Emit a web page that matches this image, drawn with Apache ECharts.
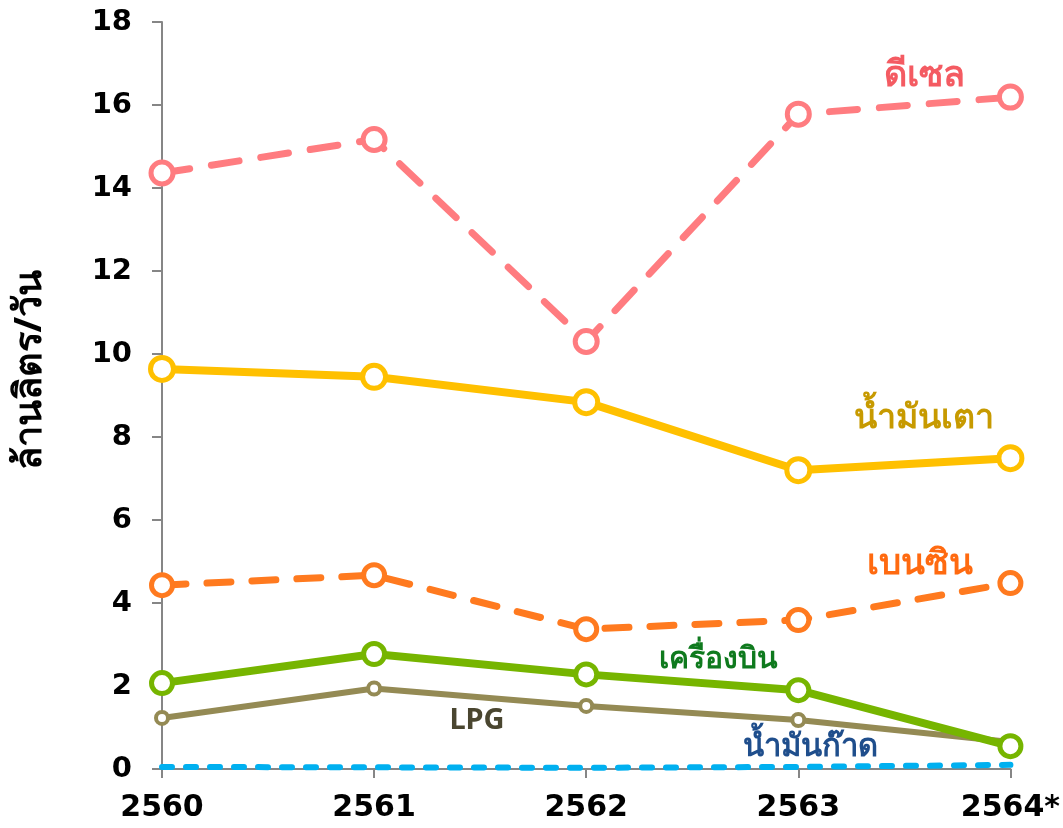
<!DOCTYPE html>
<html>
<head>
<meta charset="utf-8">
<script src="https://cdn.jsdelivr.net/npm/echarts@6/dist/echarts.min.js"></script>
<style>
  html, body { margin: 0; padding: 0; background: #fff; }
  #chart { width: 1063px; height: 828px; }
</style>
</head>
<body>
<div id="chart"></div>
<script>
// ข้อมูล
const years = ['2560', '2561', '2562', '2563', '2564*']
const diesel = [14.36, 15.17, 10.3, 15.78, 16.19]
const fuelOil = [9.64, 9.45, 8.84, 7.2, 7.49]
const benzin = [4.43, 4.67, 3.37, 3.59, 4.48]
const jet = [2.07, 2.77, 2.28, 1.9, 0.55]
const lpg = [1.23, 1.94, 1.52, 1.18, 0.65]
const kerosene = [0.05, 0.04, 0.03, 0.05, 0.1]
const yTicks = [0, 2, 4, 6, 8, 10, 12, 14, 16, 18]

const numFont = '"DejaVu Sans", Verdana, sans-serif'
const thaiFont = '"Noto Sans", "DejaVu Sans", sans-serif'

function lineSeries(name, data, color, width, dashed, size, border) {
  return {
    name: name,
    type: 'line',
    data: data,
    symbol: size ? 'circle' : 'none',
    symbolSize: size || 0,
    showSymbol: !!size,
    itemStyle: { color: '#fff', borderColor: color, borderWidth: border || 0 },
    lineStyle: {
      color: color,
      width: width,
      type: dashed || 'solid',
      cap: 'round'
    },
    z: 3
  }
}

function label(text, x, y, color, size) {
  return {
    type: 'text',
    x: x,
    y: y,
    style: {
      text: text,
      fill: color,
      font: 'bold ' + size + 'px ' + thaiFont,
      align: 'center',
      verticalAlign: 'middle'
    }
  }
}

const chart = echarts.init(document.getElementById('chart'))

const option = {
  animation: false,
  grid: { left: 162, right: 52, top: 22, bottom: 59 },
  xAxis: {
    type: 'category',
    data: years,
    boundaryGap: false,
    axisLine: { lineStyle: { color: '#868686', width: 2 } },
    axisTick: { show: true, length: 9, alignWithLabel: true, lineStyle: { color: '#868686', width: 2 } },
    axisLabel: {
      color: '#000',
      fontFamily: numFont,
      fontWeight: 'bold',
      fontSize: 30,
      margin: 24
    }
  },
  yAxis: {
    type: 'value',
    min: 0,
    max: 18,
    interval: 2,
    splitLine: { show: false },
    axisLine: { show: true, lineStyle: { color: '#868686', width: 2 } },
    axisTick: { show: true, length: 10, lineStyle: { color: '#868686', width: 2 } },
    axisLabel: {
      color: '#000',
      fontFamily: numFont,
      fontWeight: 'bold',
      fontSize: 29,
      margin: 30,
      formatter: function (v) { return yTicks.indexOf(v) >= 0 ? String(v) : '' }
    }
  },
  series: [
    lineSeries('น้ำมันก๊าด', kerosene, '#00B0F0', 6, [10, 14], 0, 0),
    lineSeries('LPG', lpg, '#948A54', 6, 'solid', 12, 4),
    lineSeries('เครื่องบิน', jet, '#76B500', 8, 'solid', 21, 5),
    lineSeries('เบนซิน', benzin, '#FF7A1F', 7, [24, 21], 21, 5),
    lineSeries('น้ำมันเตา', fuelOil, '#FFC000', 8, 'solid', 23, 5),
    lineSeries('ดีเซล', diesel, '#FF7C80', 7, [28, 22], 22, 5)
  ],
  graphic: [
    {
      type: 'text',
      x: 30,
      y: 370,
      rotation: Math.PI / 2,
      style: {
        text: 'ล้านลิตร/วัน',
        fill: '#000',
        font: 'bold 38px ' + thaiFont,
        align: 'center',
        verticalAlign: 'middle'
      }
    },
    label('ดีเซล', 924, 76, '#F45B62', 36),
    label('น้ำมันเตา', 924, 418, '#C79A00', 34),
    label('เบนซิน', 920, 564, '#FF6A10', 35),
    label('เครื่องบิน', 718, 659, '#0F7A1E', 30),
    label('LPG', 477, 721, '#4A4630', 29),
    label('น้ำมันก๊าด', 810, 747, '#1F4E8C', 31)
  ]
}

option && chart.setOption(option)
</script>
</body>
</html>
